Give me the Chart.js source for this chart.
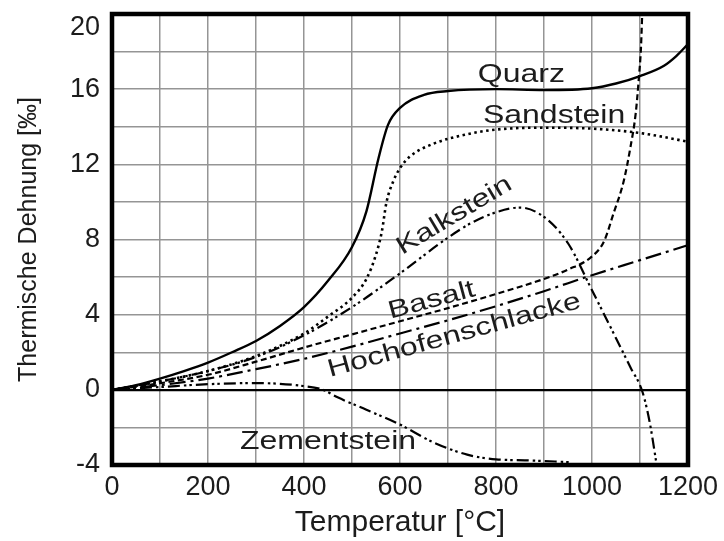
<!DOCTYPE html>
<html>
<head>
<meta charset="utf-8">
<script src="https://cdn.jsdelivr.net/npm/chart.js@4"></script>
<style>
html,body{margin:0;padding:0;background:#fff;}
#wrap{width:724px;height:541px;}
</style>
</head>
<body>
<div id="wrap"><canvas id="c" width="724" height="541"></canvas></div>
<script>
// ---- data (temperature °C, thermal strain ‰) ----
const xTickLabels = [0, 200, 400, 600, 800, 1000, 1200];
const yTickLabels = [-4, 0, 4, 8, 12, 16, 20];

const quarz = [[0,0],[50,0.25],[100,0.6],[150,1.0],[200,1.45],[250,2.0],[300,2.6],[350,3.4],[400,4.4],[450,5.8],[500,7.6],[530,9.5],[555,12.3],[575,14.1],[600,15.0],[650,15.7],[700,15.9],[800,16.0],[900,15.95],[1000,16.05],[1050,16.3],[1100,16.7],[1150,17.25],[1175,17.75],[1200,18.4]];
const sandstein = [[0,0],[100,0.45],[200,1.0],[300,1.8],[400,3.0],[450,3.9],[500,4.9],[530,5.9],[550,7.2],[562,8.4],[572,10.0],[586,11.1],[600,11.8],[620,12.4],[670,13.1],[740,13.6],[800,13.85],[900,13.95],[1000,13.9],[1090,13.7],[1140,13.5],[1200,13.2]];
const kalkstein = [[0,0],[100,0.45],[200,1.0],[300,1.75],[400,2.9],[500,4.4],[600,6.2],[700,8.1],[750,8.9],[800,9.45],[850,9.7],[900,9.2],[950,7.8],[1000,5.3],[1050,2.75],[1080,1.2],[1105,-0.1],[1120,-1.7],[1136,-4.2]];
const basalt = [[0,0],[100,0.35],[200,0.8],[300,1.5],[400,2.25],[500,2.95],[600,3.65],[700,4.35],[800,5.1],[900,5.9],[950,6.4],[1000,7.1],[1025,7.9],[1045,9.4],[1066,11.1],[1080,12.9],[1091,14.7],[1097,16.4],[1102,18.2],[1105,20.3]];
const hochofenschlacke = [[0,0],[100,0.25],[200,0.6],[300,1.1],[400,1.65],[500,2.3],[600,3.0],[700,3.7],[800,4.45],[900,5.25],[1000,6.1],[1100,6.9],[1200,7.7]];
const zementstein = [[0,0],[100,0.15],[200,0.3],[300,0.36],[400,0.2],[440,0.0],[470,-0.4],[530,-1.06],[600,-1.85],[670,-2.8],[740,-3.45],[800,-3.7],[860,-3.75],[955,-3.85]];

const seriesNames = ['Quarz', 'Sandstein', 'Kalkstein', 'Basalt', 'Hochofenschlacke', 'Zementstein'];
const seriesData = [quarz, sandstein, kalkstein, basalt, hochofenschlacke, zementstein];

// curve label anchors in data units: [temperature, strain, angle in degrees]
const labelAnchors = [[853, 16.77, 0], [921, 14.54, 0], [713, 9.27, -31], [666, 4.75, -15], [713, 2.88, -15.4], [450, -2.78, 0]];

// ---- styles ----
const lineStyles = [
  {dash: [], width: 2.4},
  {dash: [2.5, 3.5], width: 2.6},
  {dash: [11, 4, 2.5, 3, 2.5, 4], width: 2.2},
  {dash: [6, 3.5], width: 2.2},
  {dash: [16, 5, 3, 5], width: 2.2},
  {dash: [12, 4, 2.5, 3, 2.5, 4], width: 2.2}
];

const FONT = "'Liberation Sans', Arial, Helvetica, sans-serif";
const TEXT = '#1c1c1c';
const GRID = '#959595';
Chart.defaults.font.family = FONT;
Chart.defaults.color = TEXT;

const datasets = seriesData.map((d, i) => ({
  label: seriesNames[i],
  data: d.map(p => ({x: p[0], y: p[1]})),
  borderColor: '#000',
  borderWidth: lineStyles[i].width,
  borderDash: lineStyles[i].dash,
  borderCapStyle: 'butt',
  pointRadius: 0,
  fill: false,
  cubicInterpolationMode: 'monotone'
}));

const overlay = {
  id: 'overlay',
  afterDatasetsDraw(chart) {
    const {ctx, scales: {x, y}} = chart;
    ctx.save();
    ctx.fillStyle = TEXT;
    ctx.font = '25px ' + FONT;
    ctx.textAlign = 'center';
    ctx.textBaseline = 'middle';
    labelAnchors.forEach((a, i) => {
      ctx.save();
      ctx.translate(x.getPixelForValue(a[0]), y.getPixelForValue(a[1]));
      ctx.rotate(a[2] * Math.PI / 180);
      ctx.scale(1.28, 1);
      ctx.fillText(seriesNames[i], 0, 0);
      ctx.restore();
    });
    ctx.restore();
  },
  afterDraw(chart) {
    const {ctx, chartArea: a} = chart;
    ctx.save();
    ctx.strokeStyle = '#000';
    ctx.lineWidth = 4.5;
    ctx.strokeRect(a.left, a.top, a.right - a.left, a.bottom - a.top);
    ctx.restore();
  }
};

new Chart(document.getElementById('c'), {
  type: 'line',
  data: {datasets},
  options: {
    responsive: false,
    animation: false,
    devicePixelRatio: 1,
    layout: {padding: {top: 14, right: 36, bottom: 0, left: 0}},
    plugins: {legend: {display: false}, tooltip: {enabled: false}},
    scales: {
      x: {
        type: 'linear',
        min: xTickLabels[0],
        max: xTickLabels[xTickLabels.length - 1],
        ticks: {
          stepSize: 100, autoSkip: false, maxRotation: 0, minRotation: 0, maxTicksLimit: 30,
          padding: 6, color: TEXT, font: {size: 27},
          callback: v => xTickLabels.includes(v) ? String(v) : ''
        },
        grid: {color: GRID, lineWidth: 1.5, drawTicks: false},
        border: {display: false},
        title: {display: true, text: 'Temperatur [°C]', color: TEXT, font: {size: 30}, padding: {top: 0, bottom: 0}},
        afterFit(s) { s.height = 76; s.paddingLeft = 0; s.paddingRight = 0; }
      },
      y: {
        type: 'linear',
        min: yTickLabels[0],
        max: yTickLabels[yTickLabels.length - 1],
        ticks: {
          stepSize: 2, autoSkip: false, maxTicksLimit: 30,
          padding: 12, color: TEXT, font: {size: 27, lineHeight: 1},
          callback: v => {
            if (!yTickLabels.includes(v)) return '';
            return v === yTickLabels[yTickLabels.length - 1] ? ['', String(v)] : String(v);
          }
        },
        grid: {
          color: c => (c.tick && c.tick.value === 0) ? '#000' : GRID,
          lineWidth: c => (c.tick && c.tick.value === 0) ? 2.2 : 1.5,
          drawTicks: false
        },
        border: {display: false},
        title: {display: true, text: 'Thermische Dehnung [‰]', color: TEXT, font: {size: 25}, padding: {top: 14, bottom: 0}},
        afterFit(s) { s.width = 112; s.paddingTop = 0; s.paddingBottom = 0; }
      }
    }
  },
  plugins: [overlay]
});
</script>
</body>
</html>
